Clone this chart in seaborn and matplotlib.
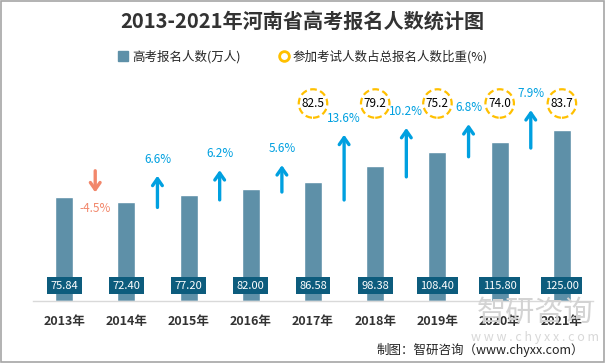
import matplotlib
matplotlib.use("Agg")
import matplotlib.pyplot as plt
import matplotlib.transforms as mtransforms
from matplotlib.lines import Line2D
from matplotlib.patches import Rectangle
import seaborn as sns

# data
years = ['2013年', '2014年', '2015年', '2016年', '2017年', '2018年', '2019年', '2020年', '2021年']
applicants = [75.84, 72.40, 77.20, 82.00, 86.58, 98.38, 108.40, 115.80, 125.00]
growth = [-4.5, 6.6, 6.2, 5.6, 13.6, 10.2, 6.8, 7.9]
ratio_years = ['2017年', '2018年', '2019年', '2020年', '2021年']
ratio = [82.5, 79.2, 75.2, 74.0, 83.7]

bar_color = '#5e90a8'
box_color = '#0d5c7d'
up_color = '#00a0e0'
down_color = '#f2876b'
ring_color = '#ffc000'

sns.set_style('white')
plt.rcParams['font.family'] = ['Noto Sans CJK SC', 'DejaVu Sans']

fig = plt.figure(figsize=(6.05, 3.63), dpi=100)
ax = fig.add_axes([33 / 605, 62 / 363, 560 / 605, 231 / 363])

sns.barplot(x=years, y=applicants, color=bar_color, width=0.29,
            saturation=1, ax=ax, zorder=2)
ax.set_xlim(-0.5, 8.5)
ax.set_ylim(0, 168.5)

for s in ['top', 'left', 'right']:
    ax.spines[s].set_visible(False)
ax.spines['bottom'].set_color('#d9d9d9')
ax.spines['bottom'].set_linewidth(1)
ax.set_yticks([])
ax.set_xlabel('')
ax.set_ylabel('')
ax.tick_params(axis='x', length=0, pad=10)
for lbl in ax.get_xticklabels():
    lbl.set_fontsize(9)
    lbl.set_fontweight('bold')
    lbl.set_color('#333333')

# value boxes at the foot of each bar
for i, v in enumerate(applicants):
    ax.text(i, 11, f'{v:.2f}', ha='center', va='center', fontsize=8,
            color='white', zorder=4,
            bbox=dict(boxstyle='square,pad=0.32', fc=box_color, ec='none'))

# growth arrows between bars
for i, g in enumerate(growth):
    mid = (applicants[i] + applicants[i + 1]) / 2 + 5
    half = abs(g) * 3.5 / 2
    if g >= 0:
        tail, tip = mid - half, mid + half
        col = up_color
        ly = tip + 12
    else:
        mid += 8
        tail, tip = mid + half, mid - half
        col = down_color
        ly = tip - 12
    ax.annotate('', xy=(i + 0.5, tip), xytext=(i + 0.5, tail),
                arrowprops=dict(arrowstyle='->,head_length=0.5,head_width=0.35',
                                color=col, lw=2.4, shrinkA=0, shrinkB=0))
    ax.text(i + 0.5, ly, f'{g}%', ha='center', va='center', fontsize=8.5,
            color=col)

# dashed rings with exam-taker ratio
trans = mtransforms.blended_transform_factory(ax.transData, ax.transAxes)
rx = [years.index(y) for y in ratio_years]
ax.scatter(rx, [0.855] * len(rx), s=420, facecolor='white', edgecolor=ring_color,
           linewidths=1.6, linestyle=(0, (3, 1.6)), transform=trans,
           clip_on=False, zorder=5)
for x, r in zip(rx, ratio):
    ax.text(x, 0.855, f'{r:.1f}', transform=trans, ha='center', va='center',
            fontsize=8.5, color='black', zorder=6)

# title and legend
fig.text(0.5, 1 - 21 / 363, '2013-2021年河南省高考报名人数统计图', ha='center',
         va='center', fontsize=14.5, fontweight='bold', color='#333333')
handles = [
    Line2D([], [], marker='s', linestyle='none', color=bar_color, markersize=7),
    Line2D([], [], marker='o', linestyle='none', markerfacecolor='none',
           markeredgecolor=ring_color, markeredgewidth=2, markersize=7),
]
fig.legend(handles, ['高考报名人数(万人)', '参加考试人数占总报名人数比重(%)'],
           loc='center', bbox_to_anchor=(0.5, 1 - 57 / 363), ncol=2,
           frameon=False, fontsize=9, handletextpad=0.2, columnspacing=3,
           handlelength=1)

# watermark and source
fig.text(0.885, 1 - 313 / 363, '智研咨询', ha='center', va='center',
         fontsize=21, color='#d3d3d3', zorder=0)
fig.text(0.885, 1 - 338 / 363, 'w w w . c h y x x . c o m', ha='center',
         va='center', fontsize=9, color='#d8d8d8', zorder=0)
fig.text(0.965, 1 - 350 / 363, '制图：智研咨询（www.chyxx.com）', ha='right',
         va='center', fontsize=9, color='#222222')

fig.patches.append(Rectangle((0.001, 0.002), 0.997, 0.995, transform=fig.transFigure,
                             fill=False, ec='#a6a6a6', lw=1.2))

fig.savefig('out.png', dpi=100)
